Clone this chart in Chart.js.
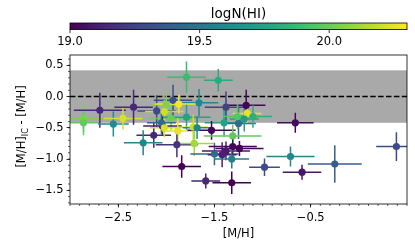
<!DOCTYPE html>
<html>
<head>
<meta charset="utf-8">
<script src="https://cdn.jsdelivr.net/npm/chart.js@4.4.1/dist/chart.umd.min.js"></script>
<style>
body { margin: 0; background: #fff; }
#wrap { width: 415px; height: 249px; }
</style>
</head>
<body>
<div id="wrap"><canvas id="grafico" width="415" height="249"></canvas></div>
<script>
// one entry per system
const mh     = [-2.86, -2.86, -2.69, -2.55, -2.45, -2.34, -2.10, -2.13, -2.24, -1.79, -1.46, -1.93, -1.66, -2.00, -1.87, -1.38, -2.02, -1.95, -1.79, -1.40, -1.25, -2.04, -1.88, -1.72, -1.53, -1.31, -1.89, -1.71, -1.50, -1.38, -1.31, -1.42, -1.32, -1.84, -1.59, -1.32, -1.17, -1.26, -1.16, -1.10, -1.19, -0.66, -1.24, -0.71, -0.98, -0.59, -0.25, 0.39, -2.05, -2.02, -1.68];
const dmh    = [-0.35, -0.42, -0.22, -0.44, -0.35, -0.17, -0.23, -0.62, -0.74, 0.31, 0.26, -0.06, -0.10, -0.13, -0.12, -0.17, -0.24, -0.35, -0.33, -0.42, -0.43, -0.47, -0.55, -0.49, -0.54, -0.63, -0.77, -0.75, -0.92, -0.87, -0.80, -0.93, -1.00, -1.12, -1.35, -1.38, -0.14, -0.32, -0.27, -0.32, -0.36, -0.42, -0.83, -0.96, -1.13, -1.21, -1.08, -0.80, -0.42, -0.50, -0.50];
const mhErr  = [0.20, 0.18, 0.27, 0.16, 0.20, 0.20, 0.20, 0.18, 0.20, 0.20, 0.15, 0.20, 0.20, 0.15, 0.25, 0.22, 0.20, 0.22, 0.25, 0.20, 0.18, 0.20, 0.18, 0.15, 0.25, 0.30, 0.22, 0.20, 0.25, 0.25, 0.25, 0.15, 0.18, 0.20, 0.15, 0.20, 0.20, 0.15, 0.15, 0.20, 0.15, 0.19, 0.25, 0.25, 0.16, 0.20, 0.28, 0.21, 0.15, 0.15, 0.15];
const dmhErr = [0.22, 0.20, 0.28, 0.20, 0.18, 0.28, 0.25, 0.20, 0.20, 0.25, 0.18, 0.25, 0.22, 0.20, 0.15, 0.25, 0.18, 0.18, 0.20, 0.22, 0.25, 0.15, 0.20, 0.20, 0.15, 0.18, 0.20, 0.20, 0.18, 0.15, 0.20, 0.20, 0.15, 0.18, 0.12, 0.18, 0.25, 0.20, 0.15, 0.18, 0.20, 0.16, 0.12, 0.16, 0.14, 0.12, 0.30, 0.23, 0.18, 0.15, 0.18];
const logNHI = [20.04, 19.98, 19.15, 19.62, 20.22, 19.15, 19.30, 19.15, 19.58, 19.88, 19.80, 19.32, 19.60, 20.05, 20.28, 19.25, 20.20, 20.00, 19.75, 19.75, 19.45, 19.10, 20.25, 20.18, 19.02, 19.98, 19.20, 20.12, 19.45, 19.10, 19.02, 19.12, 19.55, 19.00, 19.15, 19.00, 19.02, 19.95, 20.25, 19.82, 19.72, 19.03, 19.02, 19.58, 19.30, 19.08, 19.38, 19.28, 19.45, 20.22, 19.60];

const xTicks = [-2.5, -1.5, -0.5];
const yTicks = [0.5, 0.0, -0.5, -1.0, -1.5];
const cbTicks = [19.0, 19.5, 20.0];
const cbMin = 19.0, cbMax = 20.3;
const faixa = 0.42;

const viridis = ['#440154', '#482475', '#414487', '#355f8d', '#2a788e', '#21918c', '#22a884', '#44bf70', '#7ad151', '#bddf26', '#fde725'];

function hexRgb(h) { return [1, 3, 5].map(i => parseInt(h.substr(i, 2), 16)); }

function corViridis(v) {
    let t = (v - cbMin) / (cbMax - cbMin);
    t = Math.max(0, Math.min(1, t));
    const p = t * (viridis.length - 1);
    const i = Math.min(Math.floor(p), viridis.length - 2);
    const f = p - i;
    const a = hexRgb(viridis[i]), b = hexRgb(viridis[i + 1]);
    const c = a.map((x, k) => Math.round(x + (b[k] - x) * f));
    return `rgb(${c[0]},${c[1]},${c[2]})`;
}

const cores = logNHI.map(corViridis);
const menos = v => v.toFixed(1).replace('-', '\u2212');

Chart.defaults.font.family = '"DejaVu Sans", sans-serif';
Chart.defaults.color = '#000';

function minorTicks(ctx, s, horizontal, a) {
    ctx.beginPath();
    for (let k = Math.ceil(s.min * 10); k <= Math.floor(s.max * 10); k++) {
        const p = s.getPixelForValue(k / 10);
        if (horizontal) { ctx.moveTo(p, a.bottom); ctx.lineTo(p, a.bottom + 2); }
        else { ctx.moveTo(a.left, p); ctx.lineTo(a.left - 2, p); }
    }
    ctx.stroke();
}

const extras = {
    id: 'extras',
    beforeDatasetsDraw(chart) {
        const {ctx, chartArea: a, scales: {x, y}} = chart;
        ctx.save();
        ctx.beginPath();
        ctx.rect(a.left, a.top, a.right - a.left, a.bottom - a.top);
        ctx.clip();
        // gray band
        const y1 = y.getPixelForValue(faixa), y2 = y.getPixelForValue(-faixa);
        ctx.fillStyle = '#a9a9a9';
        ctx.fillRect(a.left, y1, a.right - a.left, y2 - y1);
        // zero line
        const y0 = y.getPixelForValue(0);
        ctx.strokeStyle = '#000';
        ctx.lineWidth = 1.5;
        ctx.setLineDash([5.5, 2.4]);
        ctx.beginPath();
        ctx.moveTo(a.left, y0);
        ctx.lineTo(a.right, y0);
        ctx.stroke();
        ctx.setLineDash([]);
        // error bars
        mh.forEach((v, i) => {
            ctx.strokeStyle = cores[i];
            ctx.beginPath();
            ctx.moveTo(x.getPixelForValue(v - mhErr[i]), y.getPixelForValue(dmh[i]));
            ctx.lineTo(x.getPixelForValue(v + mhErr[i]), y.getPixelForValue(dmh[i]));
            ctx.moveTo(x.getPixelForValue(v), y.getPixelForValue(dmh[i] - dmhErr[i]));
            ctx.lineTo(x.getPixelForValue(v), y.getPixelForValue(dmh[i] + dmhErr[i]));
            ctx.stroke();
        });
        ctx.restore();
    },
    afterDraw(chart) {
        const {ctx, chartArea: a, scales: {x, y, c}} = chart;
        ctx.save();
        ctx.strokeStyle = '#000';
        ctx.lineWidth = 0.8;
        ctx.strokeRect(a.left, a.top, a.right - a.left, a.bottom - a.top);
        ctx.lineWidth = 0.6;
        minorTicks(ctx, x, true, a);
        minorTicks(ctx, y, false, a);

        // colorbar
        const cl = c.getPixelForValue(cbMin), cr = c.getPixelForValue(cbMax);
        const top = a.top - 32, h = 6.6;
        const g = ctx.createLinearGradient(cl, 0, cr, 0);
        viridis.forEach((cor, i) => g.addColorStop(i / (viridis.length - 1), cor));
        ctx.fillStyle = g;
        ctx.fillRect(cl, top, cr - cl, h);
        ctx.lineWidth = 0.8;
        ctx.strokeRect(cl, top, cr - cl, h);
        ctx.beginPath();
        cbTicks.forEach(v => {
            const p = c.getPixelForValue(v);
            ctx.moveTo(p, top + h);
            ctx.lineTo(p, top + h + 3.5);
        });
        ctx.stroke();

        // y label with subscript
        ctx.translate(a.left - 47.5, (a.top + a.bottom) / 2 - 3);
        ctx.rotate(-Math.PI / 2);
        ctx.fillStyle = '#000';
        ctx.textBaseline = 'middle';
        const partes = [['[M/H]', '11.5px "DejaVu Sans"', 0], ['IC', '8px "DejaVu Sans"', 3], [' - [M/H]', '11.5px "DejaVu Sans"', 0]];
        let w = 0;
        partes.forEach(p => { ctx.font = p[1]; w += ctx.measureText(p[0]).width; });
        let px = -w / 2;
        partes.forEach(p => {
            ctx.font = p[1];
            ctx.fillText(p[0], px, p[2]);
            px += ctx.measureText(p[0]).width;
        });
        ctx.restore();
    }
};

const ctx = document.getElementById('grafico').getContext('2d');

new Chart(ctx, {
    type: 'scatter',
    data: {
        datasets: [{
            data: mh.map((v, i) => ({x: v, y: dmh[i]})),
            backgroundColor: cores,
            borderWidth: 0,
            pointRadius: 3.6,
            pointHoverRadius: 3.6
        }]
    },
    options: {
        responsive: false,
        animation: false,
        events: [],
        layout: { padding: { left: 0, right: 8, top: 0, bottom: 0 } },
        plugins: {
            legend: { display: false },
            tooltip: { enabled: false }
        },
        scales: {
            x: {
                type: 'linear',
                min: -3.0,
                max: 0.5,
                afterBuildTicks: s => { s.ticks = xTicks.map(v => ({value: v})); },
                afterFit: s => { s.height = 45; },
                ticks: { callback: v => menos(v), font: { size: 11.5 }, color: '#000', padding: 4, maxRotation: 0, autoSkip: false },
                grid: { drawOnChartArea: false, tickLength: 3.5, color: '#000', lineWidth: 0.8 },
                border: { display: false },
                title: { display: true, text: '[M/H]', font: { size: 11.5 }, color: '#000', padding: { top: 0, bottom: 8 } }
            },
            y: {
                type: 'linear',
                min: -1.72,
                max: 0.665,
                afterBuildTicks: s => { s.ticks = yTicks.map(v => ({value: v})); },
                afterFit: s => { s.width = 70; },
                ticks: { callback: v => menos(v), font: { size: 11.5 }, color: '#000', padding: 3, autoSkip: false },
                grid: { drawOnChartArea: false, tickLength: 3.5, color: '#000', lineWidth: 0.8 },
                border: { display: false }
            },
            c: {
                type: 'linear',
                axis: 'x',
                position: 'top',
                min: cbMin,
                max: cbMax,
                afterBuildTicks: s => { s.ticks = cbTicks.map(v => ({value: v})); },
                afterFit: s => { s.height = 55; },
                ticks: { callback: v => v.toFixed(1), font: { size: 11.5 }, color: '#000', padding: 6, maxRotation: 0, autoSkip: false },
                grid: { display: false, drawTicks: false },
                border: { display: false },
                title: { display: true, text: 'logN(HI)', font: { size: 13.5 }, color: '#000', padding: { top: 6, bottom: 0 } }
            }
        }
    },
    plugins: [extras]
});
</script>
</body>
</html>
